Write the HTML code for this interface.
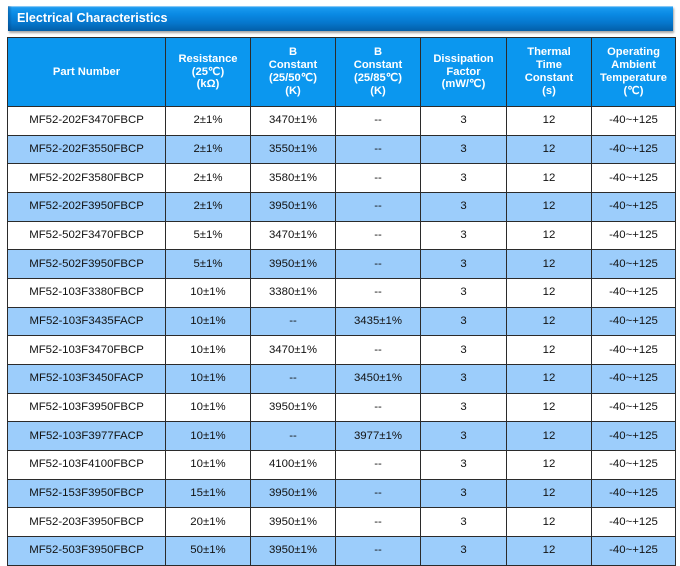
<!DOCTYPE html>
<html>
<head>
<meta charset="utf-8">
<style>
  html,body{margin:0;padding:0;background:#fff;}
  body{width:680px;height:563px;overflow:hidden;position:relative;font-family:"Liberation Sans",Arial,sans-serif;}
  .bar{position:absolute;left:8px;top:6px;width:665px;height:25px;
    background:linear-gradient(to bottom,#b9ddf8 0px,#1a9af0 1.5px,#0a8ae4 8px,#0676cc 17px,#035ea8 25px);
    box-shadow:1px 2px 2px rgba(0,0,0,0.35);}
  .bar:before{content:"";position:absolute;left:0;top:0;width:4px;height:100%;background:linear-gradient(to right,rgba(0,40,90,0.35),rgba(0,40,90,0));}
  .bar span{position:absolute;left:9px;top:5px;font-weight:bold;font-size:12.6px;color:#fff;line-height:14px;white-space:nowrap;}
  table{position:absolute;left:7px;top:37px;border-collapse:collapse;table-layout:fixed;width:668px;}
  td,th{border:1px solid #2b2b2b;text-align:center;vertical-align:middle;padding:0;overflow:hidden;white-space:nowrap;}
  th{background:#0b97ef;color:#fff;font-weight:bold;font-size:11.2px;line-height:12.8px;height:68px;}
  td{font-size:11.4px;color:#111;height:27.68px;line-height:13px;}
  tr.b td{background:#9ccdfb;}
  tr.w td{background:#fff;}
</style>
</head>
<body>
<div class="bar"><span>Electrical Characteristics</span></div>
<table>
<colgroup>
<col style="width:158px"><col style="width:85px"><col style="width:85px"><col style="width:85px"><col style="width:86px"><col style="width:85px"><col style="width:84px">
</colgroup>
<tr>
<th>Part Number</th>
<th>Resistance<br>(25℃)<br>(kΩ)</th>
<th>B<br>Constant<br>(25/50℃)<br>(K)</th>
<th>B<br>Constant<br>(25/85℃)<br>(K)</th>
<th>Dissipation<br>Factor<br>(mW/℃)</th>
<th>Thermal<br>Time<br>Constant<br>(s)</th>
<th>Operating<br>Ambient<br>Temperature<br>(℃)</th>
</tr>
<tr class="w"><td>MF52-202F3470FBCP</td><td>2±1%</td><td>3470±1%</td><td>--</td><td>3</td><td>12</td><td>-40~+125</td></tr>
<tr class="b"><td>MF52-202F3550FBCP</td><td>2±1%</td><td>3550±1%</td><td>--</td><td>3</td><td>12</td><td>-40~+125</td></tr>
<tr class="w"><td>MF52-202F3580FBCP</td><td>2±1%</td><td>3580±1%</td><td>--</td><td>3</td><td>12</td><td>-40~+125</td></tr>
<tr class="b"><td>MF52-202F3950FBCP</td><td>2±1%</td><td>3950±1%</td><td>--</td><td>3</td><td>12</td><td>-40~+125</td></tr>
<tr class="w"><td>MF52-502F3470FBCP</td><td>5±1%</td><td>3470±1%</td><td>--</td><td>3</td><td>12</td><td>-40~+125</td></tr>
<tr class="b"><td>MF52-502F3950FBCP</td><td>5±1%</td><td>3950±1%</td><td>--</td><td>3</td><td>12</td><td>-40~+125</td></tr>
<tr class="w"><td>MF52-103F3380FBCP</td><td>10±1%</td><td>3380±1%</td><td>--</td><td>3</td><td>12</td><td>-40~+125</td></tr>
<tr class="b"><td>MF52-103F3435FACP</td><td>10±1%</td><td>--</td><td>3435±1%</td><td>3</td><td>12</td><td>-40~+125</td></tr>
<tr class="w"><td>MF52-103F3470FBCP</td><td>10±1%</td><td>3470±1%</td><td>--</td><td>3</td><td>12</td><td>-40~+125</td></tr>
<tr class="b"><td>MF52-103F3450FACP</td><td>10±1%</td><td>--</td><td>3450±1%</td><td>3</td><td>12</td><td>-40~+125</td></tr>
<tr class="w"><td>MF52-103F3950FBCP</td><td>10±1%</td><td>3950±1%</td><td>--</td><td>3</td><td>12</td><td>-40~+125</td></tr>
<tr class="b"><td>MF52-103F3977FACP</td><td>10±1%</td><td>--</td><td>3977±1%</td><td>3</td><td>12</td><td>-40~+125</td></tr>
<tr class="w"><td>MF52-103F4100FBCP</td><td>10±1%</td><td>4100±1%</td><td>--</td><td>3</td><td>12</td><td>-40~+125</td></tr>
<tr class="b"><td>MF52-153F3950FBCP</td><td>15±1%</td><td>3950±1%</td><td>--</td><td>3</td><td>12</td><td>-40~+125</td></tr>
<tr class="w"><td>MF52-203F3950FBCP</td><td>20±1%</td><td>3950±1%</td><td>--</td><td>3</td><td>12</td><td>-40~+125</td></tr>
<tr class="b"><td>MF52-503F3950FBCP</td><td>50±1%</td><td>3950±1%</td><td>--</td><td>3</td><td>12</td><td>-40~+125</td></tr>
</table>
</body>
</html>
